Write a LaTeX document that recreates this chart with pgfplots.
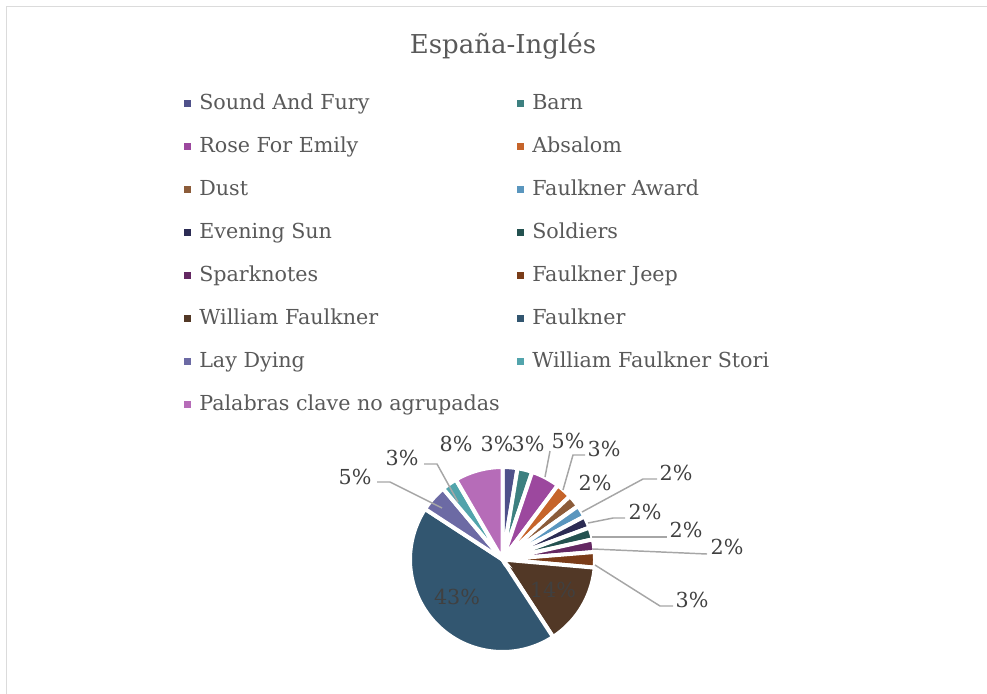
\documentclass[border=0pt]{standalone}
\usepackage{fontspec}
\setmainfont{DejaVu Serif}
\usepackage{pgfplots}
\usepackage{pgfplotstable}
\pgfplotsset{compat=1.18}
\definecolor{slice0}{HTML}{4F518A}
\definecolor{slice1}{HTML}{3D8080}
\definecolor{slice2}{HTML}{9C489E}
\definecolor{slice3}{HTML}{C6642A}
\definecolor{slice4}{HTML}{8C5C3A}
\definecolor{slice5}{HTML}{5A96BE}
\definecolor{slice6}{HTML}{2C2C54}
\definecolor{slice7}{HTML}{245250}
\definecolor{slice8}{HTML}{642862}
\definecolor{slice9}{HTML}{7A3C18}
\definecolor{slice10}{HTML}{523826}
\definecolor{slice11}{HTML}{325670}
\definecolor{slice12}{HTML}{6C6AA4}
\definecolor{slice13}{HTML}{52A4AC}
\definecolor{slice14}{HTML}{B66CB8}
\definecolor{txtgray}{HTML}{595959}
\definecolor{lblgray}{HTML}{404040}
\definecolor{leadgray}{HTML}{A6A6A6}
\pgfplotstableread{
value
2.6
2.6
5.0
2.8
2.2
2.1
2.1
2.1
2.2
2.7
14.4
43.4
4.7
2.7
8.4
}\piedata
\newcommand\legfont{\fontsize{15.5}{18}\selectfont}
\newcommand\lblfont{\fontsize{15.5}{18}\selectfont}
\begin{document}
\begin{tikzpicture}
\useasboundingbox (0,0) rectangle (740.25pt,-519.75pt);
\begin{scope}[x=0.75pt,y=-0.75pt]
\clip (0,0) rectangle (987,693);
\draw[draw=black!14, line width=1.1pt] (6.5,6.5) rectangle (1010,720);
\node[anchor=base, text=txtgray, font=\fontsize{19.5}{23}\selectfont, inner sep=0pt] at (503,53) {España-Inglés};
\foreach \n/\c/\mx/\ry in {
  Sound And Fury/slice0/184/102, Barn/slice1/517/102,
  Rose For Emily/slice2/184/145, Absalom/slice3/517/145,
  Dust/slice4/184/188, Faulkner Award/slice5/517/188,
  Evening Sun/slice6/184/231, Soldiers/slice7/517/231,
  Sparknotes/slice8/184/274, Faulkner Jeep/slice9/517/274,
  William Faulkner/slice10/184/317, Faulkner/slice11/517/317,
  Lay Dying/slice12/184/360, William Faulkner Stori/slice13/517/360,
  Palabras clave no agrupadas/slice14/184/403}{
  \fill[\c] (\mx,\ry-2.5) rectangle ++(7,7);
  \node[anchor=base west, text=txtgray, font=\legfont, inner sep=0pt] at (\mx+15,\ry+7) {\n};
}
\end{scope}
% pie: 1 axis unit = 1 px, centre of the pie at (502.5, 559.5) px
\begin{axis}[at={(376.875pt,-419.625pt)}, anchor=center, hide axis, scale only axis,
  width=150pt, height=150pt, xmin=-100, xmax=100, ymin=-100, ymax=100, clip=false]
\pgfmathsetmacro\cum{0}
\pgfplotsforeachungrouped \i in {0,...,14}{%
  \pgfplotstablegetelem{\i}{value}\of\piedata
  \pgfmathsetmacro\b{\cum+\pgfplotsretval}%
  \pgfmathsetmacro\tb{90-3.6*\cum}%
  \pgfmathsetmacro\ta{90-3.6*\b}%
  \edef\doslice{\noexpand\addplot[fill=slice\i, draw=white, line width=3pt, line join=miter, domain=\ta:\tb, samples=60, variable=\noexpand\t] ({92.5*cos(\noexpand\t)},{92.5*sin(\noexpand\t)}) -- (axis cs:0,0) -- cycle;}%
  \doslice
  \global\let\cum\b
}
% leader lines
\pgfplotsset{leader/.style={leadgray, line width=1.1pt, no marks}}
\addplot[leader] coordinates {(42.5,82.5) (47.5,108.5)};
\addplot[leader] coordinates {(60.5,69.5) (70.5,104.5) (82.5,104.5)};
\addplot[leader] coordinates {(79.5,47.5) (140.5,80.5) (154.5,80.5)};
\addplot[leader] coordinates {(85.5,36.5) (110.5,41.5) (122.5,41.5)};
\addplot[leader] coordinates {(89.5,22.5) (164.5,22.5)};
\addplot[leader] coordinates {(90.5,10.5) (204.5,5.5)};
\addplot[leader] coordinates {(92.5,-5.5) (157.5,-46.5) (170.5,-46.5)};
\addplot[leader] coordinates {(-60.5,51.5) (-112.5,77.5) (-125.5,77.5)};
\addplot[leader] coordinates {(-44.5,57.5) (-65.5,95.5) (-78.5,95.5)};
% labels
\begin{scope}[every node/.style={text=lblgray, font=\lblfont, inner sep=1pt}]
\node at (axis cs:-5.5,115.5) {3\%};
\node at (axis cs:25.5,115.5) {3\%};
\node at (axis cs:65.5,118.5) {5\%};
\node at (axis cs:101.5,110.5) {3\%};
\node at (axis cs:92.5,76.5) {2\%};
\node at (axis cs:173.5,86.5) {2\%};
\node at (axis cs:142.5,47.5) {2\%};
\node at (axis cs:183.5,29.5) {2\%};
\node at (axis cs:224.5,12.5) {2\%};
\node at (axis cs:189.5,-40.5) {3\%};
\node at (axis cs:50.5,-30.5) {14\%};
\node at (axis cs:-45.5,-37.5) {43\%};
\node at (axis cs:-147.5,82.5) {5\%};
\node at (axis cs:-100.5,101.5) {3\%};
\node at (axis cs:-46.5,115.5) {8\%};
\end{scope}
\end{axis}
\end{tikzpicture}
\end{document}
